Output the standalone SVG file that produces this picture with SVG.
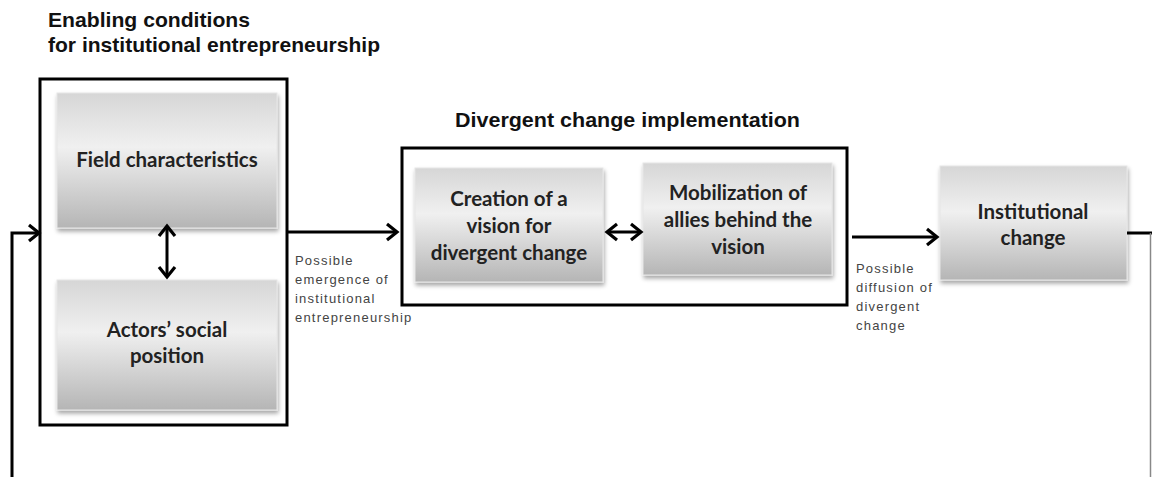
<svg xmlns="http://www.w3.org/2000/svg" width="1152" height="477" viewBox="0 0 1152 477">
<style>
.title{font-family:"Liberation Sans",Arial,sans-serif;font-weight:bold;font-size:20.5px;fill:#111}
.box{fill:url(#g);stroke:#e6e6e6;stroke-width:1;filter:url(#sh)}
.frame{fill:none;stroke:#000;stroke-width:3}
.t{font-family:Lato,"Noto Sans",sans-serif;font-weight:bold;font-size:20.5px;fill:#222;text-anchor:middle}
.lbl{font-family:"Liberation Sans",Arial,sans-serif;font-size:13px;letter-spacing:1.2px;fill:#444}
.ln{fill:none;stroke:#000;stroke-width:3}
</style>
<defs>
<linearGradient id="g" x1="0" y1="0" x2="0" y2="1">
<stop offset="0" stop-color="#d6d6d6"/>
<stop offset="0.4" stop-color="#f0f0f0"/>
<stop offset="1" stop-color="#b5b5b5"/>
</linearGradient>
<filter id="sh" x="-10%" y="-10%" width="125%" height="130%">
<feDropShadow dx="1" dy="3" stdDeviation="2" flood-color="#000" flood-opacity="0.35"/>
</filter>
<marker id="ah" markerUnits="userSpaceOnUse" markerWidth="16" markerHeight="22" viewBox="0 0 16 22" refX="13" refY="11" orient="auto-start-reverse">
<path d="M3,3 L13,11 L3,19" fill="none" stroke="#000" stroke-width="3.2"/>
</marker>
</defs>

<text class="title" x="48" y="27" textLength="202" lengthAdjust="spacingAndGlyphs">Enabling conditions</text>
<text class="title" x="48" y="52" textLength="332" lengthAdjust="spacingAndGlyphs">for institutional entrepreneurship</text>
<text class="title" x="455" y="127" textLength="345" lengthAdjust="spacingAndGlyphs">Divergent change implementation</text>

<g id="enabling-conditions">
<rect class="frame" x="40" y="79" width="247" height="346"/>
</g>
<g id="field-characteristics">
<rect class="box" x="57" y="93" width="220" height="135"/>
<text class="t" x="167" y="167">Field characteristics</text>
</g>
<g id="actors-social-position">
<rect class="box" x="57" y="280" width="220" height="130"/>
<text class="t" x="167" y="337">Actors’ social</text>
<text class="t" x="167" y="363">position</text>
</g>

<g id="divergent-change-implementation">
<rect class="frame" x="402" y="148" width="445" height="157"/>
</g>
<g id="creation-of-vision">
<rect class="box" x="415" y="168" width="188" height="114"/>
<text class="t" x="509" y="206">Creation of a</text>
<text class="t" x="509" y="233">vision for</text>
<text class="t" x="509" y="260">divergent change</text>
</g>
<g id="mobilization-of-allies">
<rect class="box" x="643" y="163" width="189" height="112"/>
<text class="t" x="738" y="200">Mobilization of</text>
<text class="t" x="738" y="227">allies behind the</text>
<text class="t" x="738" y="254">vision</text>
</g>

<g id="institutional-change">
<rect class="box" x="940" y="166" width="187" height="114"/>
<text class="t" x="1033" y="219">Institutional</text>
<text class="t" x="1033" y="245">change</text>
</g>

<g id="connectors">
<line class="ln" x1="167" y1="226" x2="167" y2="277" marker-start="url(#ah)" marker-end="url(#ah)"/>
<line class="ln" x1="288" y1="232" x2="397" y2="232" marker-end="url(#ah)"/>
<line class="ln" x1="607" y1="232" x2="641" y2="232" marker-start="url(#ah)" marker-end="url(#ah)"/>
<line class="ln" x1="852" y1="237" x2="937" y2="237" marker-end="url(#ah)"/>
<polyline class="ln" points="1127,233 1152,233"/>
<line x1="1150.5" y1="233" x2="1150.5" y2="477" stroke="#888" stroke-width="1.5"/>
<polyline class="ln" points="12,477 12,233 39,233" marker-end="url(#ah)"/>
</g>

<g id="labels">
<text class="lbl"><tspan x="295" y="265">Possible</tspan><tspan x="295" y="284">emergence of</tspan><tspan x="295" y="303">institutional</tspan><tspan x="295" y="322">entrepreneurship</tspan></text>
<text class="lbl"><tspan x="856" y="273">Possible</tspan><tspan x="856" y="292">diffusion of</tspan><tspan x="856" y="311">divergent</tspan><tspan x="856" y="330">change</tspan></text>
</g>
</svg>
